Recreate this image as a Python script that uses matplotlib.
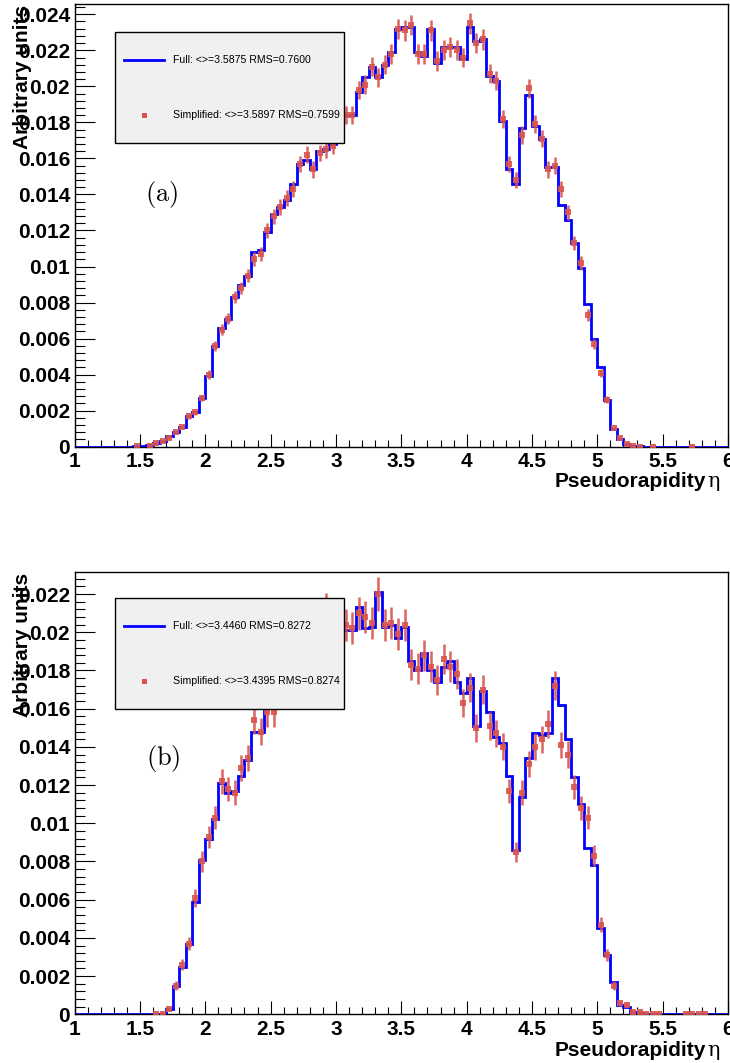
import numpy as np
import matplotlib
matplotlib.use("Agg")
import matplotlib.pyplot as plt
from matplotlib.patches import Rectangle
from matplotlib.lines import Line2D
from matplotlib.ticker import MultipleLocator

plt.rcParams['mathtext.fontset'] = 'cm'

# ---------------- data (values in units of 1e-4) ----------------
eta_lo, eta_hi, n_bins = 1.0, 6.0, 100

full_a = [0, 0, 0, 0, 0, 0, 0, 0, 0, 0.2,
          0.3, 0.8, 2, 3, 6, 8, 11, 17, 19, 27,
          39, 56, 66, 71, 83, 90, 95, 108, 109, 119,
          129, 133, 137, 146, 157, 159, 154, 164, 165, 168,
          176, 184, 184, 197, 205, 211, 205, 212, 219, 232,
          233, 233, 219, 217, 232, 213, 222, 222, 222, 215,
          233, 225, 226, 206, 203, 181, 154, 146, 177, 195,
          178, 171, 155, 155, 134, 126, 113, 99, 79, 60,
          44, 26, 10, 4, 1.3, 0.3, 0.2, 0.1, 0.1, 0,
          0, 0, 0, 0, 0.1, 0, 0, 0, 0, 0]

simp_a = [0, 0, 0, 0, 0, 0, 0, 0, 0, 0.2,
          0, 0.5, 2, 3, 5, 8, 11, 17, 19, 27,
          40, 56, 65, 71, 83, 88, 95, 104, 107, 120,
          128, 133, 138, 143, 157, 162, 154, 163, 165, 167,
          178, 184, 184, 198, 201, 211, 205, 212, 218, 232,
          231, 234, 218, 218, 231, 214, 220, 222, 220, 216,
          235, 224, 226, 207, 203, 182, 157, 148, 173, 199,
          179, 171, 154, 156, 143, 130, 113, 102, 73, 57,
          41, 26, 10.5, 4.7, 1.3, 0.3, 0.1, 0, 0.1, 0,
          0, 0, 0, 0, 0.1, 0, 0, 0, 0, 0]

err_a = [0, 0, 0, 0, 0, 0, 0, 0, 0, 0.2,
         0, 0.3, 0.5, 0.6, 0.8, 1.0, 1.2, 1.5, 1.6, 1.9,
         2.3, 2.8, 3.0, 3.1, 3.4, 3.5, 3.6, 3.8, 3.8, 4.0,
         4.2, 4.3, 4.3, 4.4, 4.6, 4.7, 4.6, 4.7, 4.8, 4.8,
         4.9, 5.0, 5.0, 5.2, 5.2, 5.4, 5.3, 5.4, 5.5, 5.6,
         5.6, 5.7, 5.5, 5.5, 5.6, 5.4, 5.5, 5.5, 5.5, 5.4,
         5.7, 5.5, 5.6, 5.3, 5.3, 5.0, 4.6, 4.5, 4.9, 5.2,
         4.9, 4.8, 4.6, 4.6, 4.4, 4.2, 3.9, 3.7, 3.2, 2.8,
         2.4, 1.9, 1.2, 0.8, 0.4, 0.2, 0.1, 0, 0.1, 0,
         0, 0, 0, 0, 0.1, 0, 0, 0, 0, 0]

full_b = [0, 0, 0, 0, 0, 0, 0, 0, 0, 0,
          0, 0, 0, 0, 3, 15, 25, 37, 59, 81,
          92, 102, 121, 116, 117, 125, 133, 148, 148, 163,
          168, 172, 177, 181, 186, 190, 193, 197, 208, 200,
          203, 201, 201, 213, 202, 203, 221, 203, 204, 197,
          203, 185, 180, 189, 180, 174, 182, 185, 174, 168,
          176, 151, 169, 158, 145, 142, 125, 86, 114, 134,
          147, 146, 147, 176, 162, 144, 124, 110, 87, 78,
          45, 31, 17, 5, 4, 1.4, 0.8, 0.3, 0.3, 0.3,
          0, 0, 0, 0.3, 0.3, 0.3, 0.3, 0, 0, 0]

simp_b = [0, 0, 0, 0, 0, 0, 0, 0, 0, 0,
          0, 0, 0.2, 0.2, 3, 15, 26, 37, 61, 80,
          93, 103, 122, 118, 116, 129, 134, 154, 148, 158,
          158, 168, 178, 180, 188, 192, 195, 200, 212, 203,
          205, 204, 202, 210, 208, 205, 220, 204, 205, 199,
          204, 183, 181, 188, 182, 175, 186, 182, 178, 163,
          171, 150, 170, 151, 147, 140, 117, 85, 116, 131,
          140, 144, 152, 172, 141, 136, 119, 108, 103, 83,
          47, 31, 15, 6, 5, 1.4, 1.4, 0.3, 0.3, 0.3,
          0, 0, 0, 0.3, 0.3, 0.3, 0.3, 0, 0, 0]

err_b = [0, 0, 0, 0, 0, 0, 0, 0, 0, 0,
         0, 0, 0.3, 0.3, 1.0, 2.3, 3.0, 3.6, 4.6, 5.3,
         5.7, 6.0, 6.5, 6.4, 6.4, 6.7, 6.8, 7.3, 7.2, 7.4,
         7.4, 7.6, 7.9, 7.9, 8.1, 8.2, 8.2, 8.3, 8.6, 8.4,
         8.4, 8.4, 8.4, 8.6, 8.5, 8.4, 8.8, 8.4, 8.4, 8.3,
         8.4, 8.0, 7.9, 8.1, 8.0, 7.8, 8.0, 8.0, 7.9, 7.5,
         7.7, 7.2, 7.7, 7.3, 7.2, 7.0, 6.4, 5.4, 6.4, 6.8,
         7.0, 7.1, 7.3, 7.7, 7.0, 6.9, 6.4, 6.1, 6.0, 5.4,
         4.0, 3.3, 2.3, 1.4, 1.3, 0.7, 0.7, 0.3, 0.3, 0.3,
         0, 0, 0, 0.3, 0.3, 0.3, 0.3, 0, 0, 0]

legend_a = ["Full: <>=3.5875 RMS=0.7600", "Simplified: <>=3.5897 RMS=0.7599"]
legend_b = ["Full: <>=3.4460 RMS=0.8272", "Simplified: <>=3.4395 RMS=0.8274"]
panel_labels = ["(a)", "(b)"]
x_title = "Pseudorapidity"
y_title = "Arbitrary units"
x_ticks = [1, 1.5, 2, 2.5, 3, 3.5, 4, 4.5, 5, 5.5, 6]

# ---------------- figure ----------------
W, H = 730, 1063
fig = plt.figure(figsize=(W / 100, H / 100), dpi=100)

def fx(x):
    return x / W

def fy(y):
    return 1 - y / H

BLUE = '#0000ff'
RED = '#d9544f'
FONT = 'Liberation Sans'

edges = np.linspace(eta_lo, eta_hi, n_bins + 1)
centers = 0.5 * (edges[:-1] + edges[1:])

panels = [
    dict(full=full_a, simp=simp_a, err=err_a, leg=legend_a, lab=panel_labels[0],
         top=4.0, bottom=446.7, ymax=0.02457, ytick_max=0.024,
         leg_top=32, leg_bot=143, lab_px=(162, 194), xt_y=482),
    dict(full=full_b, simp=simp_b, err=err_b, leg=legend_b, lab=panel_labels[1],
         top=571.7, bottom=1014.3, ymax=0.02317, ytick_max=0.022,
         leg_top=598, leg_bot=709, lab_px=(163, 758), xt_y=1050),
]

left_px, right_px = 74.6, 728.0

for p in panels:
    ax = fig.add_axes([fx(left_px), fy(p['bottom']),
                       fx(right_px) - fx(left_px), fy(p['top']) - fy(p['bottom'])])
    full = np.array(p['full']) * 1e-4
    simp = np.array(p['simp']) * 1e-4
    err = np.array(p['err']) * 1e-4

    ax.stairs(full, edges, color=BLUE, lw=2.0, baseline=0, zorder=3)
    m = simp > 0
    ax.errorbar(centers[m], simp[m], yerr=err[m], fmt='s', ms=4.3, color=RED,
                ecolor=RED, elinewidth=1.8, capsize=0, mew=0, alpha=0.9, zorder=4)

    ax.set_xlim(eta_lo, eta_hi)
    ax.set_ylim(0, p['ymax'])
    ax.set_xticks(x_ticks)
    ax.set_xticklabels([f"{t:g}" for t in x_ticks])
    ax.xaxis.set_minor_locator(MultipleLocator(0.1))
    yt = np.arange(0, p['ytick_max'] + 1e-9, 0.002)
    ax.set_yticks(yt)
    ax.set_yticklabels(["0" if v == 0 else f"{v:g}" for v in yt])
    ax.yaxis.set_minor_locator(MultipleLocator(0.0004))
    ax.tick_params(axis='x', which='major', direction='in', length=9.4, width=0.8,
                   pad=4.0, labelsize=15)
    ax.tick_params(axis='x', which='minor', direction='in', length=4.7, width=0.8)
    ax.tick_params(axis='y', which='major', direction='in', length=14.4, width=0.8,
                   pad=3.2, labelsize=15)
    ax.tick_params(axis='y', which='minor', direction='in', length=7.2, width=0.8)
    for lbl in ax.get_xticklabels() + ax.get_yticklabels():
        lbl.set_fontfamily(FONT)
        lbl.set_fontweight('bold')
    for s in ax.spines.values():
        s.set_linewidth(1.0)
        s.set_color('black')

    # legend (drawn in figure pixel space)
    lt, lb = p['leg_top'], p['leg_bot']
    fig.patches.append(Rectangle((fx(115), fy(lb)), fx(344) - fx(115), fy(lt) - fy(lb),
                                 transform=fig.transFigure, facecolor='#f0f0f0',
                                 edgecolor='black', lw=1.0, zorder=10))
    y1 = lt + 28
    y2 = lt + 83
    fig.lines.append(Line2D([fx(124), fx(164)], [fy(y1), fy(y1)], transform=fig.transFigure,
                            color=BLUE, lw=2.0, zorder=11))
    fig.lines.append(Line2D([fx(144)], [fy(y2)], transform=fig.transFigure, marker='s',
                            ms=3.6, color=RED, mew=0, ls='none', zorder=11))
    fig.text(fx(173), fy(y1), p['leg'][0], fontsize=7.6, fontfamily=FONT,
             va='center', ha='left', zorder=12)
    fig.text(fx(173), fy(y2), p['leg'][1], fontsize=7.6, fontfamily=FONT,
             va='center', ha='left', zorder=12)

    # panel label
    fig.text(fx(p['lab_px'][0]), fy(p['lab_px'][1]), r'$\mathrm{' + p['lab'] + '}$',
             fontsize=19, ha='center', va='center')

    # axis titles
    fig.text(fx(720), fy(p['xt_y']), 'η', fontsize=15, fontfamily='DejaVu Serif',
             ha='right', va='center')
    fig.text(fx(706), fy(p['xt_y']), x_title, fontsize=15, fontfamily=FONT,
             fontweight='bold', ha='right', va='center')
    fig.text(fx(23), fy(p['top'] + 1), y_title, fontsize=15, fontfamily=FONT,
             fontweight='bold', rotation=90, ha='center', va='top')

fig.savefig('out.png', dpi=100)
